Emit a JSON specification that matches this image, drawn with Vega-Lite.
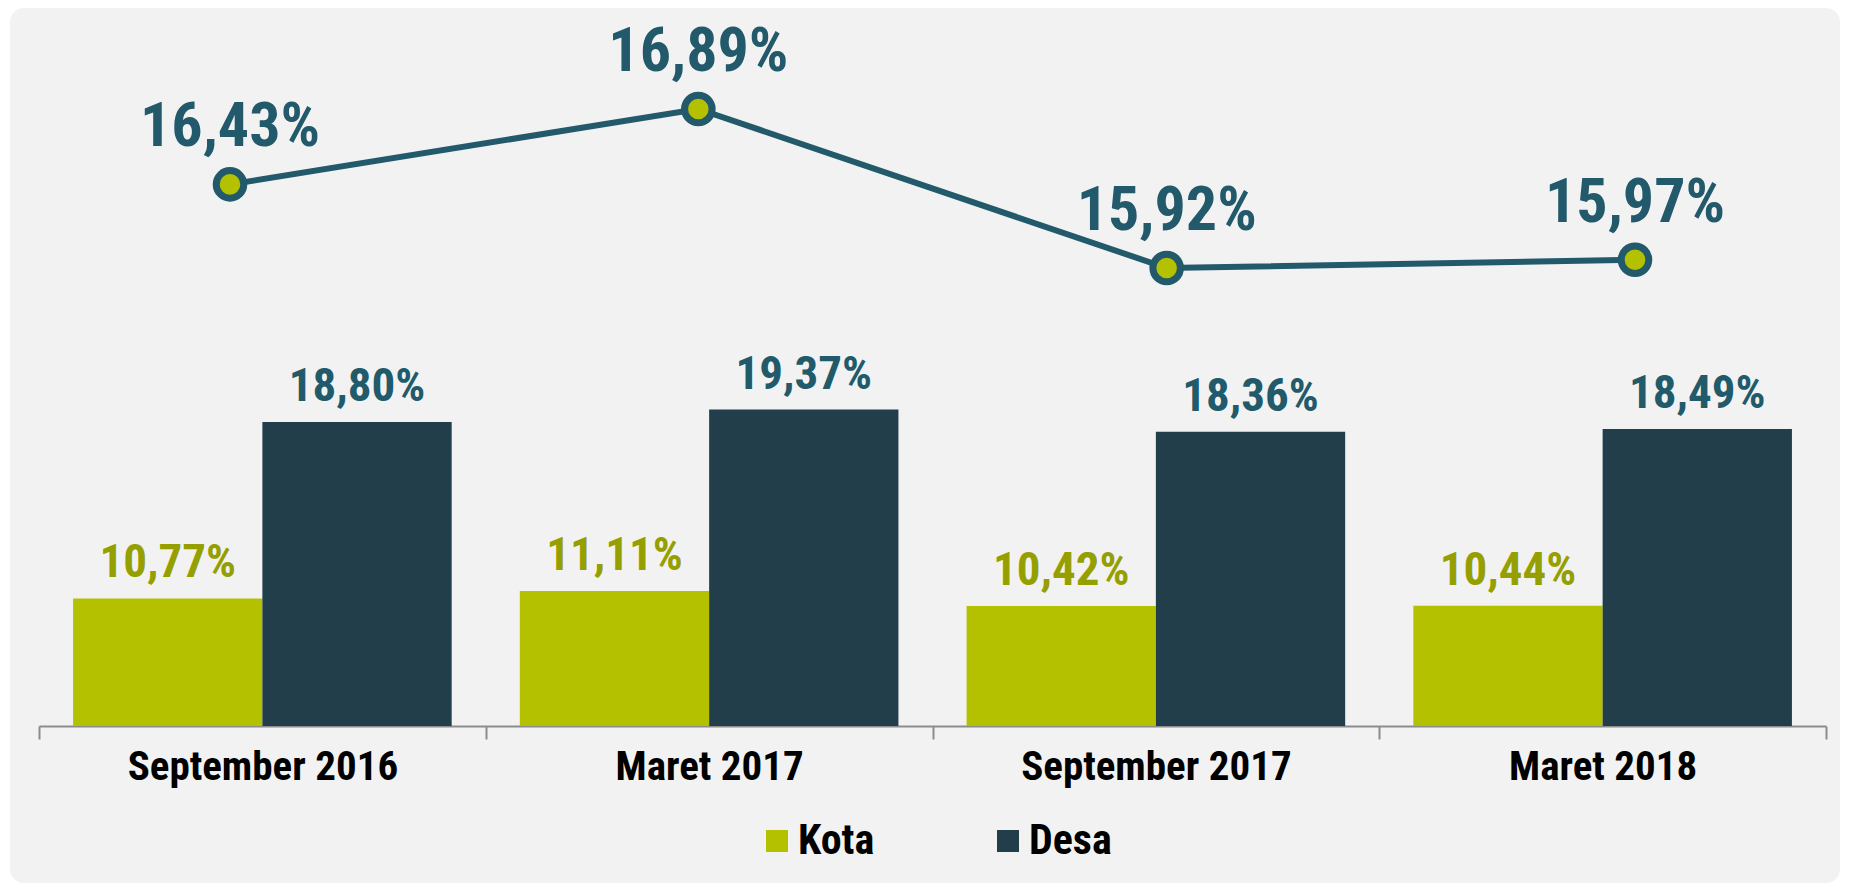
{
  "$schema": "https://vega.github.io/schema/vega-lite/v6.json",
  "width": 1830,
  "height": 875,
  "padding": {"left": 10, "top": 8, "right": 9, "bottom": 10},
  "autosize": {"type": "none"},
  "background": "white",
  "config": {
    "font": "Roboto Condensed, Arial Narrow, Roboto, sans-serif",
    "view": {"stroke": null, "fill": "#f2f2f2", "cornerRadius": 14},
    "axis": {"grid": false}
  },
  "datasets": {
    "bars": [
      {"period": "September 2016", "group": "Kota", "value": 10.77, "label": "10,77%"},
      {"period": "September 2016", "group": "Desa", "value": 18.80, "label": "18,80%"},
      {"period": "Maret 2017", "group": "Kota", "value": 11.11, "label": "11,11%"},
      {"period": "Maret 2017", "group": "Desa", "value": 19.37, "label": "19,37%"},
      {"period": "September 2017", "group": "Kota", "value": 10.42, "label": "10,42%"},
      {"period": "September 2017", "group": "Desa", "value": 18.36, "label": "18,36%"},
      {"period": "Maret 2018", "group": "Kota", "value": 10.44, "label": "10,44%"},
      {"period": "Maret 2018", "group": "Desa", "value": 18.49, "label": "18,49%"}
    ],
    "total": [
      {"period": "September 2016", "value": 16.43, "label": "16,43%"},
      {"period": "Maret 2017", "value": 16.89, "label": "16,89%"},
      {"period": "September 2017", "value": 15.92, "label": "15,92%"},
      {"period": "Maret 2018", "value": 15.97, "label": "15,97%"}
    ]
  },
  "layer": [
    {
      "data": {"name": "bars"},
      "encoding": {
        "x": {
          "field": "period", "type": "nominal", "sort": null,
          "scale": {"type": "band", "domain": ["September 2016", "Maret 2017", "September 2017", "Maret 2018"], "range": [29, 1816], "paddingInner": 0, "paddingOuter": 0},
          "axis": {
            "title": null, "orient": "bottom", "offset": -157,
            "tickBand": "extent", "tickSize": 13, "tickWidth": 2, "tickColor": "#8c8c8c",
            "domainColor": "#8c8c8c", "domainWidth": 2,
            "labelAngle": 0, "labelLimit": 0,
            "labelFontSize": 41, "labelFontWeight": "bold", "labelColor": "#000000", "labelPadding": 8
          }
        },
        "xOffset": {"field": "group", "type": "nominal", "sort": null, "scale": {"domain": ["Kota", "Desa"], "paddingInner": 0, "paddingOuter": 0.18}},
        "y": {"field": "value", "type": "quantitative", "scale": {"domain": [-2.19, 37.66], "nice": false, "zero": false}, "axis": null}
      },
      "layer": [
        {
          "mark": {"type": "bar"},
          "encoding": {
            "y2": {"datum": 4.96},
            "color": {
              "field": "group", "type": "nominal",
              "scale": {"domain": ["Kota", "Desa"], "range": ["#b4c100", "#223e4a"]},
              "legend": {
                "title": null, "orient": "none", "legendX": 746, "legendY": 812, "direction": "horizontal",
                "symbolType": "square", "symbolSize": 484, "symbolStrokeWidth": 0, "symbolOpacity": 1,
                "labelFontSize": 42, "labelFontWeight": "bold", "labelColor": "#000000", "labelOffset": 0,
                "labelLimit": 0, "columnPadding": 112
              }
            }
          }
        },
        {
          "transform": [{"filter": "datum.group === 'Kota'"}],
          "mark": {"type": "text", "baseline": "alphabetic", "dy": -21, "fontSize": 47, "fontWeight": "bold", "color": "#969f00"},
          "encoding": {"text": {"field": "label"}}
        },
        {
          "transform": [{"filter": "datum.group === 'Desa'"}],
          "mark": {"type": "text", "baseline": "alphabetic", "dy": -21, "fontSize": 47, "fontWeight": "bold", "color": "#215a6a"},
          "encoding": {"text": {"field": "label"}}
        }
      ]
    },
    {
      "data": {"name": "total"},
      "encoding": {
        "x": {"field": "period", "type": "ordinal", "sort": null, "scale": {"type": "point", "domain": ["September 2016", "Maret 2017", "September 2017", "Maret 2018"], "range": [220, 1625], "padding": 0}, "axis": null},
        "y": {"field": "value", "type": "quantitative", "scale": {"domain": [12.168, 17.506], "nice": false, "zero": false}, "axis": null}
      },
      "layer": [
        {"mark": {"type": "line", "color": "#22596b", "strokeWidth": 6}},
        {"mark": {"type": "point", "shape": "circle", "filled": true, "size": 760, "fill": "#b4c100", "stroke": "#22596b", "strokeWidth": 7, "opacity": 1}},
        {"mark": {"type": "text", "baseline": "alphabetic", "dy": -38, "fontSize": 62, "fontWeight": "bold", "color": "#22596b"}, "encoding": {"text": {"field": "label"}}}
      ]
    }
  ],
  "resolve": {"scale": {"x": "independent", "y": "independent"}}
}
